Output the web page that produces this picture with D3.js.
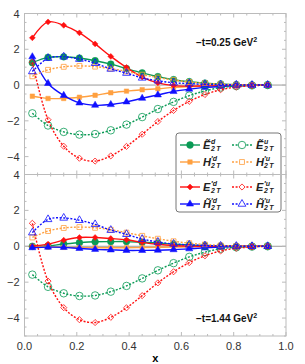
<!DOCTYPE html>
<html>
<head>
<meta charset="utf-8">
<script src="https://cdn.jsdelivr.net/npm/d3@7"></script>
<style>
body { margin: 0; background: #fff; }
svg text { font-family: "Liberation Sans", Arial, sans-serif; }
</style>
</head>
<body>
<div id="chart"></div>
<script>
// x grid of the points
var xs = [0.03, 0.09, 0.15, 0.21, 0.27, 0.33, 0.39, 0.45, 0.51, 0.57, 0.63, 0.69, 0.75, 0.81, 0.87, 0.93];

// -t = 0.25 GeV^2, d quark (solid)
var Etd_025 = [1.25, 1.55, 1.58, 1.51, 1.36, 1.17, 0.92, 0.68, 0.47, 0.30, 0.19, 0.11, 0.06, 0.02, 0.0, 0.0];
var Hpd_025 = [-0.62, -0.75, -0.75, -0.68, -0.57, -0.43, -0.34, -0.26, -0.21, -0.13, -0.09, -0.06, -0.04, -0.02, 0.0, 0.0];
var Epd_025 = [2.64, 3.53, 3.34, 2.92, 2.30, 1.60, 0.98, 0.45, 0.12, -0.03, -0.06, -0.05, -0.04, -0.02, -0.01, 0.0];
var Htpd_025 = [1.58, 0.09, -0.58, -1.00, -1.13, -1.09, -0.94, -0.74, -0.55, -0.36, -0.23, -0.13, -0.08, -0.04, -0.02, 0.0];

// -t = 1.44 GeV^2, d quark (solid)
var Etd_144 = [0.0, 0.02, 0.13, 0.20, 0.25, 0.26, 0.26, 0.22, 0.18, 0.12, 0.07, 0.03, 0.01, 0.0, 0.0, 0.0];
var Hpd_144 = [-0.02, -0.04, -0.06, -0.07, -0.08, -0.08, -0.08, -0.07, -0.06, -0.05, -0.03, -0.02, -0.01, 0.0, 0.0, 0.0];
var Epd_144 = [0.0, 0.12, 0.34, 0.49, 0.49, 0.43, 0.36, 0.22, 0.11, 0.04, 0.01, 0.0, 0.0, 0.0, 0.0, 0.0];
var Htpd_144 = [-0.08, -0.05, -0.06, -0.12, -0.17, -0.20, -0.23, -0.23, -0.22, -0.19, -0.14, -0.09, -0.05, -0.02, -0.01, 0.0];

// u quark (dashed), same in both panels
var Etu = [-1.58, -2.26, -2.62, -2.77, -2.74, -2.53, -2.21, -1.79, -1.34, -0.94, -0.59, -0.33, -0.14, -0.06, -0.02, 0.0];
var Hpu = [0.49, 0.85, 1.02, 1.07, 1.03, 0.92, 0.76, 0.58, 0.42, 0.28, 0.17, 0.10, 0.05, 0.02, 0.0, 0.0];
var Epu = [1.28, -1.94, -3.42, -4.09, -4.25, -3.96, -3.43, -2.75, -2.04, -1.42, -0.91, -0.53, -0.26, -0.11, -0.04, 0.0];
var Htpu = [0.76, 1.50, 1.58, 1.45, 1.22, 0.90, 0.67, 0.40, 0.24, 0.13, 0.08, 0.04, 0.02, 0.01, 0.0, 0.0];

var xTicks = [0, 0.2, 0.4, 0.6, 0.8, 1.0];
var yTicks = [-4, -2, 0, 2, 4];
var panelLabels = ["\u2212t=0.25 GeV", "\u2212t=1.44 GeV"];

var W = 305, H = 364;
var left = 24.5, right = 286;

var green = "#0a9a55", orange = "#ffa040", red = "#ff1010", blue = "#1010ff";

var series = [
  {name: "Etd", color: green, sym: d3.symbolCircle, size: 36, dash: null, open: false},
  {name: "Hpd", color: orange, sym: d3.symbolSquare, size: 20, dash: null, open: false},
  {name: "Epd", color: red, sym: d3.symbolDiamond2, size: 22, dash: null, open: false},
  {name: "Htpd", color: blue, sym: d3.symbolTriangle, size: 22, dash: null, open: false},
  {name: "Etu", color: green, sym: d3.symbolCircle, size: 44, dash: "2,1.6", open: true},
  {name: "Hpu", color: orange, sym: d3.symbolSquare, size: 24, dash: "2,1.6", open: true},
  {name: "Epu", color: red, sym: d3.symbolDiamond2, size: 24, dash: "2,1.6", open: true},
  {name: "Htpu", color: blue, sym: d3.symbolTriangle, size: 26, dash: "2,1.6", open: true}
];

var panels = [
  {top: 13.5, bottom: 174.5, data: [Etd_025, Hpd_025, Epd_025, Htpd_025, Etu, Hpu, Epu, Htpu], label: panelLabels[0], labelY: 46, showX: false, yLab: yTicks},
  {top: 174.5, bottom: 336, data: [Etd_144, Hpd_144, Epd_144, Htpd_144, Etu, Hpu, Epu, Htpu], label: panelLabels[1], labelY: 322, showX: true, yLab: yTicks}
];

var svg = d3.select("#chart").append("svg")
  .attr("width", W).attr("height", H);

var xScale = d3.scaleLinear().domain([0, 1]).range([left, right]);

var frames = [];

panels.forEach(function(p, pi) {
  var yScale = d3.scaleLinear().domain([-5, 4]).range([p.bottom, p.top]);
  var g = svg.append("g");

  var clipId = "clip" + pi;
  svg.append("defs").append("clipPath").attr("id", clipId)
    .append("rect").attr("x", left).attr("y", p.top).attr("width", right - left).attr("height", p.bottom - p.top);

  // zero line
  g.append("line")
    .attr("x1", left).attr("x2", right)
    .attr("y1", yScale(0)).attr("y2", yScale(0))
    .attr("stroke", "#9a9a9a").attr("stroke-width", 1);

  var line = d3.line()
    .x(function(d, i) { return xScale(xs[i]); })
    .y(function(d) { return yScale(d); })
    .curve(d3.curveCatmullRom.alpha(0.5));

  var plot = g.append("g").attr("clip-path", "url(#" + clipId + ")");

  series.forEach(function(s, si) {
    var vals = p.data[si];
    plot.append("path")
      .datum(vals)
      .attr("d", line)
      .attr("fill", "none")
      .attr("stroke", s.color)
      .attr("stroke-width", 1.4)
      .attr("stroke-dasharray", s.dash);
    plot.selectAll(".m" + si)
      .data(vals)
      .enter().append("path")
      .attr("class", "m" + si)
      .attr("transform", function(d, i) { return "translate(" + xScale(xs[i]) + "," + yScale(d) + ")"; })
      .attr("d", d3.symbol().type(s.sym).size(s.size))
      .attr("fill", s.open ? "none" : s.color)
      .attr("stroke", s.color)
      .attr("stroke-width", s.open ? 0.8 : 0.5);
  });

  // y tick labels
  g.selectAll(".yl")
    .data(p.yLab)
    .enter().append("text")
    .attr("x", left - 5)
    .attr("y", function(d) { return yScale(d) + 4; })
    .attr("text-anchor", "end")
    .attr("font-size", "11px")
    .attr("fill", "#333")
    .text(function(d) { return d < 0 ? "\u2212" + Math.abs(d) : d; });

  // panel label
  var t = g.append("text")
    .attr("x", 196).attr("y", p.labelY)
    .attr("font-size", "10px").attr("font-weight", "bold")
    .attr("fill", "#111")
    .text(p.label);
  t.append("tspan").attr("dy", -4).attr("font-size", "7px").text("2");

  frames.push({p: p, yScale: yScale});
});

// legend
var leg = svg.append("g");
leg.append("rect")
  .attr("x", 176).attr("y", 133).attr("width", 105).attr("height", 79)
  .attr("rx", 3)
  .attr("fill", "#fff").attr("stroke", "#777").attr("stroke-width", 1);

var legRows = [145, 162, 187, 204];
var legLabels = [
  {main: "E\u0303", sup: "d"}, {main: "H", sup: "\u2032d"}, {main: "E", sup: "\u2032d"}, {main: "H\u0303", sup: "\u2032d"},
  {main: "E\u0303", sup: "u"}, {main: "H", sup: "\u2032u"}, {main: "E", sup: "\u2032u"}, {main: "H\u0303", sup: "\u2032u"}
];
series.forEach(function(s, si) {
  var col = si < 4 ? 0 : 1;
  var row = si % 4;
  var x0 = col === 0 ? 180 : 232;
  var y0 = legRows[row];
  leg.append("line")
    .attr("x1", x0).attr("x2", x0 + 20)
    .attr("y1", y0).attr("y2", y0)
    .attr("stroke", s.color).attr("stroke-width", 1.4)
    .attr("stroke-dasharray", s.dash);
  leg.append("path")
    .attr("transform", "translate(" + (x0 + 10) + "," + y0 + ")")
    .attr("d", d3.symbol().type(s.sym).size(s.size))
    .attr("fill", s.open ? "#fff" : s.color)
    .attr("stroke", s.color)
    .attr("stroke-width", s.open ? 0.8 : 0.5);
  var tx = x0 + (col === 0 ? 23 : 24);
  var lab = legLabels[si];
  leg.append("text")
    .attr("x", tx).attr("y", y0 + 4)
    .attr("font-family", "Liberation Serif, DejaVu Serif, serif")
    .attr("font-style", "italic").attr("font-weight", "bold")
    .attr("font-size", "11px").attr("fill", "#222")
    .text(lab.main);
  leg.append("text")
    .attr("x", tx + 8).attr("y", y0 - 1)
    .attr("font-family", "Liberation Serif, DejaVu Serif, serif")
    .attr("font-style", "italic").attr("font-weight", "bold")
    .attr("font-size", "7px").attr("fill", "#222")
    .text(lab.sup);
  leg.append("text")
    .attr("x", tx + 8).attr("y", y0 + 6)
    .attr("font-family", "Liberation Serif, DejaVu Serif, serif")
    .attr("font-style", "italic").attr("font-weight", "bold")
    .attr("font-size", "7px").attr("fill", "#222")
    .text("2\u2009T");
});

// frames with ticks
frames.forEach(function(f) {
  var p = f.p, yScale = f.yScale;
  var g = svg.append("g");
  g.append("rect")
    .attr("x", left).attr("y", p.top)
    .attr("width", right - left).attr("height", p.bottom - p.top)
    .attr("fill", "none").attr("stroke", "#bbb").attr("stroke-width", 1);

  var xMinor = d3.range(0, 1.0001, 0.05);
  xMinor.forEach(function(v) {
    var major = Math.abs(v * 5 - Math.round(v * 5)) < 1e-6;
    var len = major ? 4 : 2;
    g.append("line").attr("x1", xScale(v)).attr("x2", xScale(v))
      .attr("y1", p.bottom).attr("y2", p.bottom - len)
      .attr("stroke", "#bbb");
    g.append("line").attr("x1", xScale(v)).attr("x2", xScale(v))
      .attr("y1", p.top).attr("y2", p.top + len)
      .attr("stroke", "#bbb");
  });
  var yMinor = d3.range(-5, 4.0001, 0.5);
  yMinor.forEach(function(v) {
    var major = Math.abs(v / 2 - Math.round(v / 2)) < 1e-6;
    var len = major ? 4 : 2;
    g.append("line").attr("x1", left).attr("x2", left + len)
      .attr("y1", yScale(v)).attr("y2", yScale(v)).attr("stroke", "#bbb");
    g.append("line").attr("x1", right).attr("x2", right - len)
      .attr("y1", yScale(v)).attr("y2", yScale(v)).attr("stroke", "#bbb");
  });

  if (p.showX) {
    g.selectAll(".xl")
      .data(xTicks)
      .enter().append("text")
      .attr("x", function(d) { return xScale(d); })
      .attr("y", p.bottom + 14)
      .attr("text-anchor", "middle")
      .attr("font-size", "11px")
      .attr("fill", "#333")
      .text(function(d) { return d3.format(".1f")(d); });
  }
});

svg.append("text")
  .attr("x", (left + right) / 2).attr("y", 362)
  .attr("text-anchor", "middle")
  .attr("font-family", "Liberation Serif, DejaVu Serif, serif")
  .attr("font-weight", "bold").attr("font-size", "11px")
  .text("x");
</script>
</body>
</html>
